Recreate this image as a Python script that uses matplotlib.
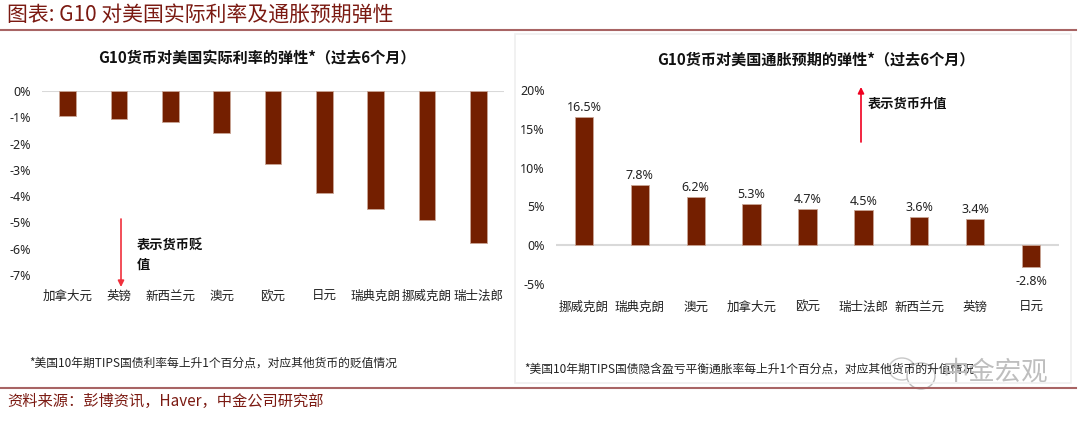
import matplotlib
matplotlib.use('Agg')
import matplotlib.pyplot as plt
from matplotlib.lines import Line2D
from matplotlib.patches import Ellipse, Rectangle, FancyArrowPatch

plt.rcParams['font.family'] = ['Noto Sans CJK SC', 'DejaVu Sans']

W = 1080
H = 421

real_names = ['加拿大元', '英镑', '新西兰元', '澳元', '欧元', '日元', '瑞典克朗', '挪威克朗', '瑞士法郎']
real_vals = [-0.95, -1.05, -1.18, -1.6, -2.77, -3.88, -4.48, -4.9, -5.77]
real_ticks = [0, -1, -2, -3, -4, -5, -6, -7]

infl_names = ['挪威克朗', '瑞典克朗', '澳元', '加拿大元', '欧元', '瑞士法郎', '新西兰元', '英镑', '日元']
infl_vals = [16.5, 7.8, 6.2, 5.3, 4.7, 4.5, 3.6, 3.4, -2.8]
infl_ticks = [20, 15, 10, 5, 0, -5]

BAR = '#741F00'
EDGE = '#C9A595'
DARK_RED = '#7B1A12'
RULE = '#A86464'
NUM_FONT = ['Noto Sans', 'DejaVu Sans']


def px_axes(fig, left, right, top, bottom):
    return fig.add_axes([left / W, 1 - bottom / H, (right - left) / W, (bottom - top) / H])


def ftext(fig, x, y, s, **kw):
    kw.setdefault('va', 'center')
    return fig.text(x / W, 1 - y / H, s, **kw)


def style_axes(ax, names, ticks, pad):
    for s in ax.spines.values():
        s.set_visible(False)
    ax.axhline(0, color='#D9D9D9', lw=1.5, zorder=1)
    ax.set_xlim(-0.5, 8.5)
    ax.set_xticks(range(len(names)))
    ax.set_xticklabels(names, fontsize=9, color='#222222')
    ax.set_yticks(ticks)
    ax.set_yticklabels(['%d%%' % t for t in ticks], fontsize=9, color='#222222', family=NUM_FONT)
    ax.tick_params(axis='both', length=0)
    ax.tick_params(axis='x', pad=pad)
    ax.tick_params(axis='y', pad=8)
    ax.patch.set_alpha(0)


fig = plt.figure(figsize=(W / 100, H / 100), dpi=100, facecolor='white')

# panel border of the right chart
fig.add_artist(Rectangle((515 / W, 1 - 383 / H), 556 / W, 349 / H, transform=fig.transFigure,
                         fill=False, ec='#EFEFEF', lw=1.2))

# left chart
ax1 = px_axes(fig, 42, 504, 91, 275)
ax1.bar(range(len(real_vals)), real_vals, width=0.32, color=BAR, edgecolor=EDGE, linewidth=0.6, zorder=2)
ax1.set_ylim(-7, 0)
style_axes(ax1, real_names, real_ticks, 11)

# right chart
ax2 = px_axes(fig, 556, 1059, 90, 284)
ax2.bar(range(len(infl_vals)), infl_vals, width=0.33, color=BAR, edgecolor=EDGE, linewidth=0.6, zorder=2)
ax2.set_ylim(-5, 20)
style_axes(ax2, infl_names, infl_ticks, 12)
for i, v in enumerate(infl_vals):
    ax2.annotate('%.1f%%' % v, (i, v), xytext=(0, 2 if v > 0 else -6), textcoords='offset points',
                 ha='center', va='bottom' if v > 0 else 'top', fontsize=9, color='#222222',
                 family=NUM_FONT)

# header and rules
ftext(fig, 7, 15, '图表: G10 对美国实际利率及通胀预期弹性', fontsize=15, color=DARK_RED, style='italic')
ftext(fig, 7, 401, '资料来源：彭博资讯，Haver，中金公司研究部', fontsize=11, color=DARK_RED, style='italic')
fig.add_artist(Line2D([0, 1076 / W], [1 - 30 / H] * 2, color=RULE, lw=1.5))
fig.add_artist(Line2D([0, 1076 / W], [1 - 388 / H] * 2, color=RULE, lw=1.5))

# chart titles
ftext(fig, 257, 57, 'G10货币对美国实际利率的弹性*（过去6个月）', fontsize=10.9, fontweight='bold', ha='center', color='#111111')
ftext(fig, 816, 59, 'G10货币对美国通胀预期的弹性*（过去6个月）', fontsize=10.9, fontweight='bold', ha='center', color='#111111')

# arrows and notes
fig.add_artist(FancyArrowPatch((121 / W, 1 - 219 / H), (121 / W, 1 - 287 / H),
               transform=fig.transFigure, arrowstyle='-|>', mutation_scale=9, color='#F0303C', lw=1.2,
               shrinkA=0, shrinkB=0))
fig.add_artist(FancyArrowPatch((861 / W, 1 - 142 / H), (861 / W, 1 - 87 / H),
               transform=fig.transFigure, arrowstyle='-|>', mutation_scale=9, color='#F00020', lw=1.2,
               shrinkA=0, shrinkB=0))
ftext(fig, 137, 245, '表示货币贬', fontsize=9.5, fontweight='bold', color='#111111')
ftext(fig, 137, 265, '值', fontsize=9.5, fontweight='bold', color='#111111')
ftext(fig, 868, 104, '表示货币升值', fontsize=9.5, fontweight='bold', color='#111111')

# footnotes
ftext(fig, 29, 363, '*美国10年期TIPS国债利率每上升1个百分点，对应其他货币的贬值情况', fontsize=8.5, color='#222222')
ftext(fig, 524, 369, '*美国10年期TIPS国债隐含盈亏平衡通胀率每上升1个百分点，对应其他货币的升值情况',
      fontsize=8.5, color='#222222')

# watermark
wm = fig.add_axes([0, 0, 1, 1], facecolor='none')
wm.set_xlim(0, W)
wm.set_ylim(H, 0)
wm.axis('off')
wm.add_patch(Ellipse((902, 369), 26, 22, fc='white', ec='#C8C8C8', lw=1))
wm.add_patch(Ellipse((921, 376), 28, 26, fc='white', ec='#BDBDBD', lw=1))
ftext(fig, 942, 372, '中金宏观', fontsize=19, color='#BEBEBE', zorder=5)

fig.savefig('out.png', dpi=100)
